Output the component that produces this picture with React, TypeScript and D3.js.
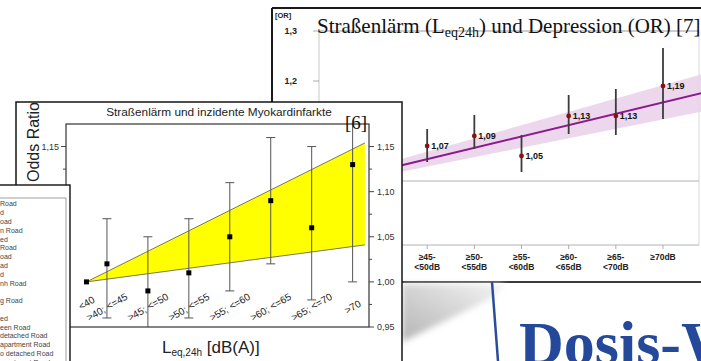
import React, { useEffect } from "react";
import * as d3 from "d3";

const W = 701;
const H = 361;
const SANS = "'Liberation Sans', Arial, sans-serif";
const SERIF = "'Liberation Serif', 'Times New Roman', serif";

// back chart: road noise and depression
const depCats = ["<45dB", "≥45-<50dB", "≥50-<55dB", "≥55-<60dB", "≥60-<65dB", "≥65-<70dB", "≥70dB"];
const depLabelTop = ["<45dB", "≥45-", "≥50-", "≥55-", "≥60-", "≥65-", "≥70dB"];
const depLabelBottom = ["", "<50dB", "<55dB", "<60dB", "<65dB", "<70dB", ""];
const depOR = [1.0, 1.07, 1.09, 1.05, 1.13, 1.13, 1.19];
const depLow = [null, 1.038, 1.064, 1.018, 1.094, 1.092, 1.124];
const depHigh = [null, 1.104, 1.132, 1.092, 1.172, 1.184, 1.266];
const depTrendIdx = [0, 7];
const depTrend = [1.021, 1.18];
const depBandLow = [1.01, 1.142];
const depBandHigh = [1.032, 1.218];
const depTicks = [1.0, 1.1, 1.2, 1.3];

// front chart: road noise and myocardial infarction
const mkCats = ["<40", ">40; <=45", ">45; <=50", ">50; <=55", ">55; <=60", ">60; <=65", ">65; <=70", ">70"];
const mkDb = [40, 42.5, 47.5, 52.5, 57.5, 62.5, 67.5, 72.5];
const mkOR = [1.0, 1.02, 0.99, 1.01, 1.05, 1.09, 1.06, 1.13];
const mkLow = [null, 0.96, 0.94, 0.96, 0.99, 1.02, 0.98, 1.0];
const mkHigh = [null, 1.07, 1.05, 1.07, 1.11, 1.16, 1.15, 1.19];
const mkBandDb = [40, 74];
const mkBandLow = [1.0, 1.041];
const mkBandHigh = [1.0, 1.154];
const mkTicks = [0.95, 1.0, 1.05, 1.1, 1.15];
const mkMinor = [0.975, 1.025, 1.075, 1.125];

// leftmost legend (cut off by the picture edge)
const legendRows = [
  "Road", "d", "oad", "n Road", "ed", "Road", "oad", "ad", "d", "nh Road",
  "", "g Road", "", "ed", "een Road", "detached Road", "apartment Road",
  "o detached Road", "apartment Road",
];

const comma = (v: number, n: number) => v.toFixed(n).replace(".", ",");

function DepressionPanel() {
  const plot = { left: 319, right: 699, top: 31, bottom: 245 };
  const x = d3.scaleLinear().domain([0, 6]).range([380, 663]);
  const y = d3.scaleLinear().domain([1.0, 1.3]).range([181, 31]);

  const band = d3
    .area<number>()
    .x((d) => x(depTrendIdx[d]))
    .y0((d) => y(depBandLow[d]))
    .y1((d) => y(depBandHigh[d]));
  const trend = d3
    .line<number>()
    .x((d) => x(depTrendIdx[d]))
    .y((d) => y(depTrend[d]));

  return (
    <g>
      <rect x={272} y={8} width={450} height={274} fill="#fff" />
      <line x1={272} x2={W} y1={8} y2={8} stroke="#1a1a1a" strokeWidth={2} />
      <line x1={272} x2={272} y1={8} y2={282} stroke="#1a1a1a" strokeWidth={2} />
      <line x1={272} x2={W} y1={282} y2={282} stroke="#3a3a3a" strokeWidth={2} />

      <text x={275} y={18} fontFamily={SANS} fontWeight="bold" fontSize={7.5} fill="#222">[OR]</text>

      {/* axes and frame */}
      <line x1={plot.left} x2={plot.left} y1={plot.top} y2={plot.bottom} stroke="#c8c8c8" />
      <line x1={plot.right} x2={plot.right} y1={plot.top} y2={plot.bottom} stroke="#d8d8d8" />
      <line x1={plot.left} x2={plot.right} y1={plot.top} y2={plot.top} stroke="#9a9a9a" />
      <line x1={plot.left} x2={plot.right} y1={y(1.0)} y2={y(1.0)} stroke="#b4b4b4" strokeWidth={1.2} />
      <line x1={plot.left} x2={plot.right} y1={plot.bottom} y2={plot.bottom} stroke="#b4b4b4" strokeWidth={1.2} />
      {depTicks.map((t) => (
        <g key={t}>
          <line x1={plot.left - 6} x2={plot.left} y1={y(t)} y2={y(t)} stroke="#aaa" />
          <text x={297} y={y(t)} dy="0.35em" textAnchor="end" fontFamily={SANS} fontWeight="bold" fontSize={9} fill="#222">
            {comma(t, 1)}
          </text>
        </g>
      ))}
      {depCats.map((c, i) => (
        <g key={c}>
          <line x1={x(i)} x2={x(i)} y1={plot.bottom} y2={plot.bottom + 4} stroke="#aaa" />
          <text x={x(i)} y={260} textAnchor="middle" fontFamily={SANS} fontWeight="bold" fontSize={8.5} fill="#222">
            {depLabelTop[i]}
          </text>
          <text x={x(i)} y={270} textAnchor="middle" fontFamily={SANS} fontWeight="bold" fontSize={8.5} fill="#222">
            {depLabelBottom[i]}
          </text>
        </g>
      ))}

      <path d={band([0, 1]) || ""} fill="#ead3ea" opacity={0.9} />
      <path d={trend([0, 1]) || ""} fill="none" stroke="#8a1a8e" strokeWidth={2} />

      {depCats.map((c, i) =>
        depLow[i] == null ? null : (
          <g key={c}>
            <line x1={x(i)} x2={x(i)} y1={y(depLow[i] as number)} y2={y(depHigh[i] as number)} stroke="#3c3c3c" strokeWidth={1.8} />
            <circle cx={x(i)} cy={y(depOR[i])} r={2.4} fill="#8b1010" />
            <text x={x(i) + 4} y={y(depOR[i])} dy="0.35em" fontFamily={SANS} fontWeight="bold" fontSize={9} fill="#111">
              {comma(depOR[i], 2)}
            </text>
          </g>
        )
      )}

      <text x={317} y={33} fontFamily={SERIF} fontSize={21} fill="#111">
        Straßenlärm (L
        <tspan fontSize={14} dy={4}>eq24h</tspan>
        <tspan dy={-4}>) und Depression (OR) [7]</tspan>
      </text>
    </g>
  );
}

function DosisStrip() {
  return (
    <g>
      <defs>
        <linearGradient id="shade" x1="0" y1="1" x2="1" y2="0">
          <stop offset="0" stopColor="#b4b4b4" />
          <stop offset="1" stopColor="#f4f4f4" />
        </linearGradient>
        <filter id="soft" x="-20%" y="-20%" width="140%" height="140%">
          <feGaussianBlur stdDeviation="3" />
        </filter>
      </defs>
      <polygon points="402,284 505,284 492,298 402,342" fill="url(#shade)" filter="url(#soft)" />
      <line x1={492} y1={282} x2={498} y2={H} stroke="#2a4d9b" strokeWidth={2.5} />
      <text x={519} y={364} fontFamily={SERIF} fontWeight="bold" fontSize={62} fill="#24489a">
        Dosis-Wirkung
      </text>
    </g>
  );
}

function MyokardPanel() {
  const frame = { left: 66, right: 369, top: 124, bottom: 327 };
  const x = d3.scaleLinear().domain([37.5, 74.5]).range([frame.left, frame.right]);
  const y = d3.scaleLinear().domain([0.95, 1.175]).range([frame.bottom, frame.top]);

  const band = d3
    .area<number>()
    .x((d) => x(mkBandDb[d]))
    .y0((d) => y(mkBandLow[d]))
    .y1((d) => y(mkBandHigh[d]));
  const edge = (vals: number[]) =>
    d3
      .line<number>()
      .x((d) => x(mkBandDb[d]))
      .y((d) => y(vals[d]))([0, 1]) || "";

  return (
    <g>
      <rect x={16} y={102} width={386} height={280} fill="#fff" stroke="#151515" strokeWidth={1.5} />
      <text x={219} y={116} textAnchor="middle" fontFamily={SANS} fontSize={11.8} fill="#222">
        Straßenlärm und inzidente Myokardinfarkte
      </text>
      <text transform="translate(38.5,142) rotate(-90)" textAnchor="middle" fontFamily={SANS} fontSize={16} fill="#222">
        Odds Ratio
      </text>

      <defs>
        <clipPath id="mkclip">
          <rect x={frame.left} y={frame.top} width={frame.right - frame.left} height={frame.bottom - frame.top} />
        </clipPath>
      </defs>

      <g clipPath="url(#mkclip)">
        <path d={band([0, 1]) || ""} fill="#ffff00" />
        <path d={edge(mkBandHigh)} fill="none" stroke="#555" strokeWidth={0.8} />
        <path d={edge(mkBandLow)} fill="none" stroke="#555" strokeWidth={0.8} />
        {mkCats.map((c, i) =>
          mkLow[i] == null ? null : (
            <g key={c} stroke="#555" strokeWidth={1}>
              <line x1={x(mkDb[i])} x2={x(mkDb[i])} y1={y(mkLow[i] as number)} y2={y(mkHigh[i] as number)} />
              <line x1={x(mkDb[i]) - 4.5} x2={x(mkDb[i]) + 4.5} y1={y(mkLow[i] as number)} y2={y(mkLow[i] as number)} />
              <line x1={x(mkDb[i]) - 4.5} x2={x(mkDb[i]) + 4.5} y1={y(mkHigh[i] as number)} y2={y(mkHigh[i] as number)} />
            </g>
          )
        )}
        {mkCats.map((c, i) => (
          <rect key={c} x={x(mkDb[i]) - 2.5} y={y(mkOR[i]) - 2.5} width={5} height={5} fill="#000" />
        ))}
        {mkCats.map((c, i) => (
          <text
            key={c}
            transform={`translate(${x(mkDb[i])},${i === 0 ? 303 : 307}) rotate(-30)`}
            textAnchor="middle"
            dy="0.35em"
            fontFamily={SANS}
            fontSize={10}
            fill="#222"
          >
            {c}
          </text>
        ))}
      </g>

      <rect
        x={frame.left}
        y={frame.top}
        width={frame.right - frame.left}
        height={frame.bottom - frame.top}
        fill="none"
        stroke="#333"
        strokeWidth={1.2}
      />

      {mkTicks.map((t) => (
        <g key={t}>
          <line x1={frame.left - 5} x2={frame.left} y1={y(t)} y2={y(t)} stroke="#444" />
          <text x={59} y={y(t)} dy="0.35em" textAnchor="end" fontFamily={SANS} fontSize={9} fill="#333">
            {comma(t, 2)}
          </text>
          <line x1={frame.right} x2={frame.right + 5} y1={y(t)} y2={y(t)} stroke="#444" />
          <text x={frame.right + 8} y={y(t)} dy="0.35em" fontFamily={SANS} fontSize={9} fill="#333">
            {comma(t, 2)}
          </text>
        </g>
      ))}
      {mkMinor.map((t) => (
        <g key={t} stroke="#444">
          <line x1={frame.left - 3} x2={frame.left} y1={y(t)} y2={y(t)} />
          <line x1={frame.right} x2={frame.right + 3} y1={y(t)} y2={y(t)} />
        </g>
      ))}

      <text x={345} y={129} fontFamily={SERIF} fontSize={19} fill="#111">[6]</text>

      <text x={162} y={353} fontFamily={SANS} fontSize={17} fill="#222">
        L<tspan fontSize={10} dy={3}>eq,24h</tspan>
        <tspan dy={-3}> [dB(A)]</tspan>
      </text>
    </g>
  );
}

function LegendPanel() {
  const rowY = d3.scaleLinear().domain([0, 1]).range([204, 212.8]);
  return (
    <g>
      <rect x={-4} y={185} width={74} height={190} fill="#fff" stroke="#111" strokeWidth={1.4} />
      <rect x={-4} y={198} width={70} height={180} fill="none" stroke="#888" strokeWidth={0.8} />
      {legendRows.map((r, i) => (
        <text key={i} x={0} y={rowY(i)} dy="0.35em" fontFamily={SANS} fontSize={7} fill="#444">
          {r}
        </text>
      ))}
    </g>
  );
}

export default function App() {
  useEffect(() => {
    document.body.style.margin = "0";
  }, []);
  return (
    <svg
      width={W}
      height={H}
      viewBox={`0 0 ${W} ${H}`}
      style={{ position: "absolute", left: 0, top: 0, display: "block", background: "#fff" }}
    >
      <DepressionPanel />
      <DosisStrip />
      <MyokardPanel />
      <LegendPanel />
    </svg>
  );
}
